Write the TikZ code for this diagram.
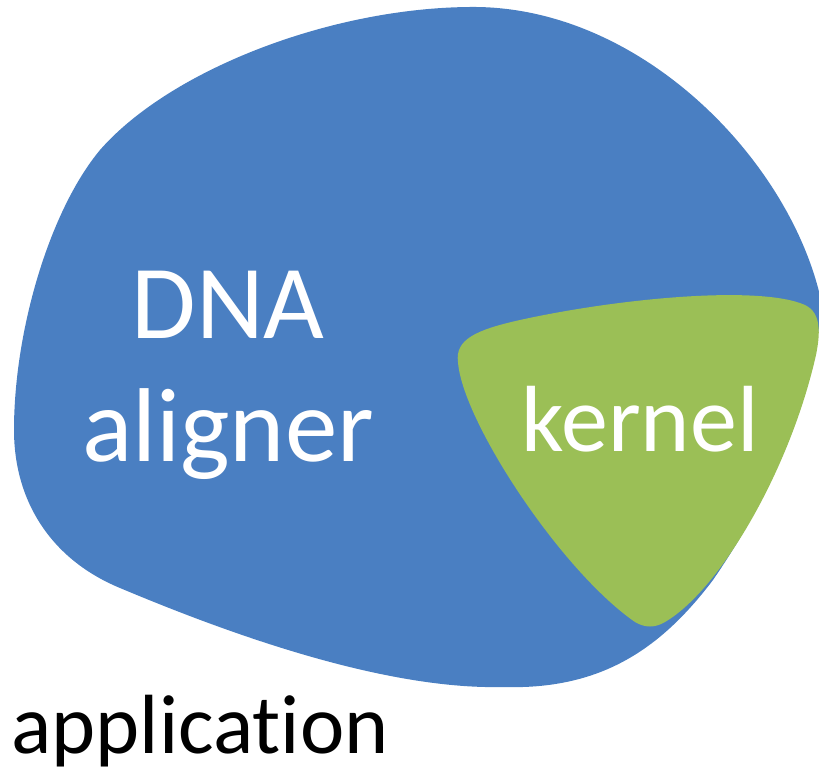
\documentclass[tikz,border=0pt]{standalone}
\usepackage{fontspec}
\setmainfont{Carlito}[Ligatures={NoCommon,NoContextual}]
\definecolor{appblue}{HTML}{4A7FC2}
\definecolor{kerngreen}{HTML}{9BBF56}
\begin{document}
\begin{tikzpicture}[x=1pt,y=-1pt,
  label text/.style={inner sep=0pt,anchor=base},
  region/.style={draw=none}]
\useasboundingbox (0,0) rectangle (819,775);

% application region
\fill[appblue,region]
  (470,7) .. controls (640,5) and (790,160) .. (821,300)
          .. controls (818,395) and (768,500) .. (713,580)
          .. controls (660,650) and (600,690) .. (503,687)
          .. controls (380,690) and (220,630) .. (120,588)
          .. controls (50,559) and (14,500) .. (14,430)
          .. controls (14,330) and (50,210) .. (100,150)
          .. controls (170,70) and (330,8) .. (470,7) -- cycle;

% kernel region
\fill[kerngreen,region]
  (458,362) .. controls (455,340) and (475,330) .. (520,320)
            .. controls (620,298) and (760,285) .. (805,305)
            .. controls (822,313) and (820,335) .. (816,355)
            .. controls (790,470) and (720,590) .. (665,622)
            .. controls (655,628) and (645,628) .. (635,622)
            .. controls (560,570) and (462,420) .. (458,362) -- cycle;

\node[label text,text=white,font=\fontsize{105}{126}\selectfont] (dna) at (228,339) {DNA};
\node[label text,text=white,font=\fontsize{105}{126}\selectfont] (aligner) at (228,461) {aligner};
\node[label text,text=white,font=\fontsize{94}{112}\selectfont] (kernel) at (640,451) {kernel};
\node[label text,text=black,font=\fontsize{84}{100}\selectfont] (app) at (200,753) {application};
\end{tikzpicture}
\end{document}
